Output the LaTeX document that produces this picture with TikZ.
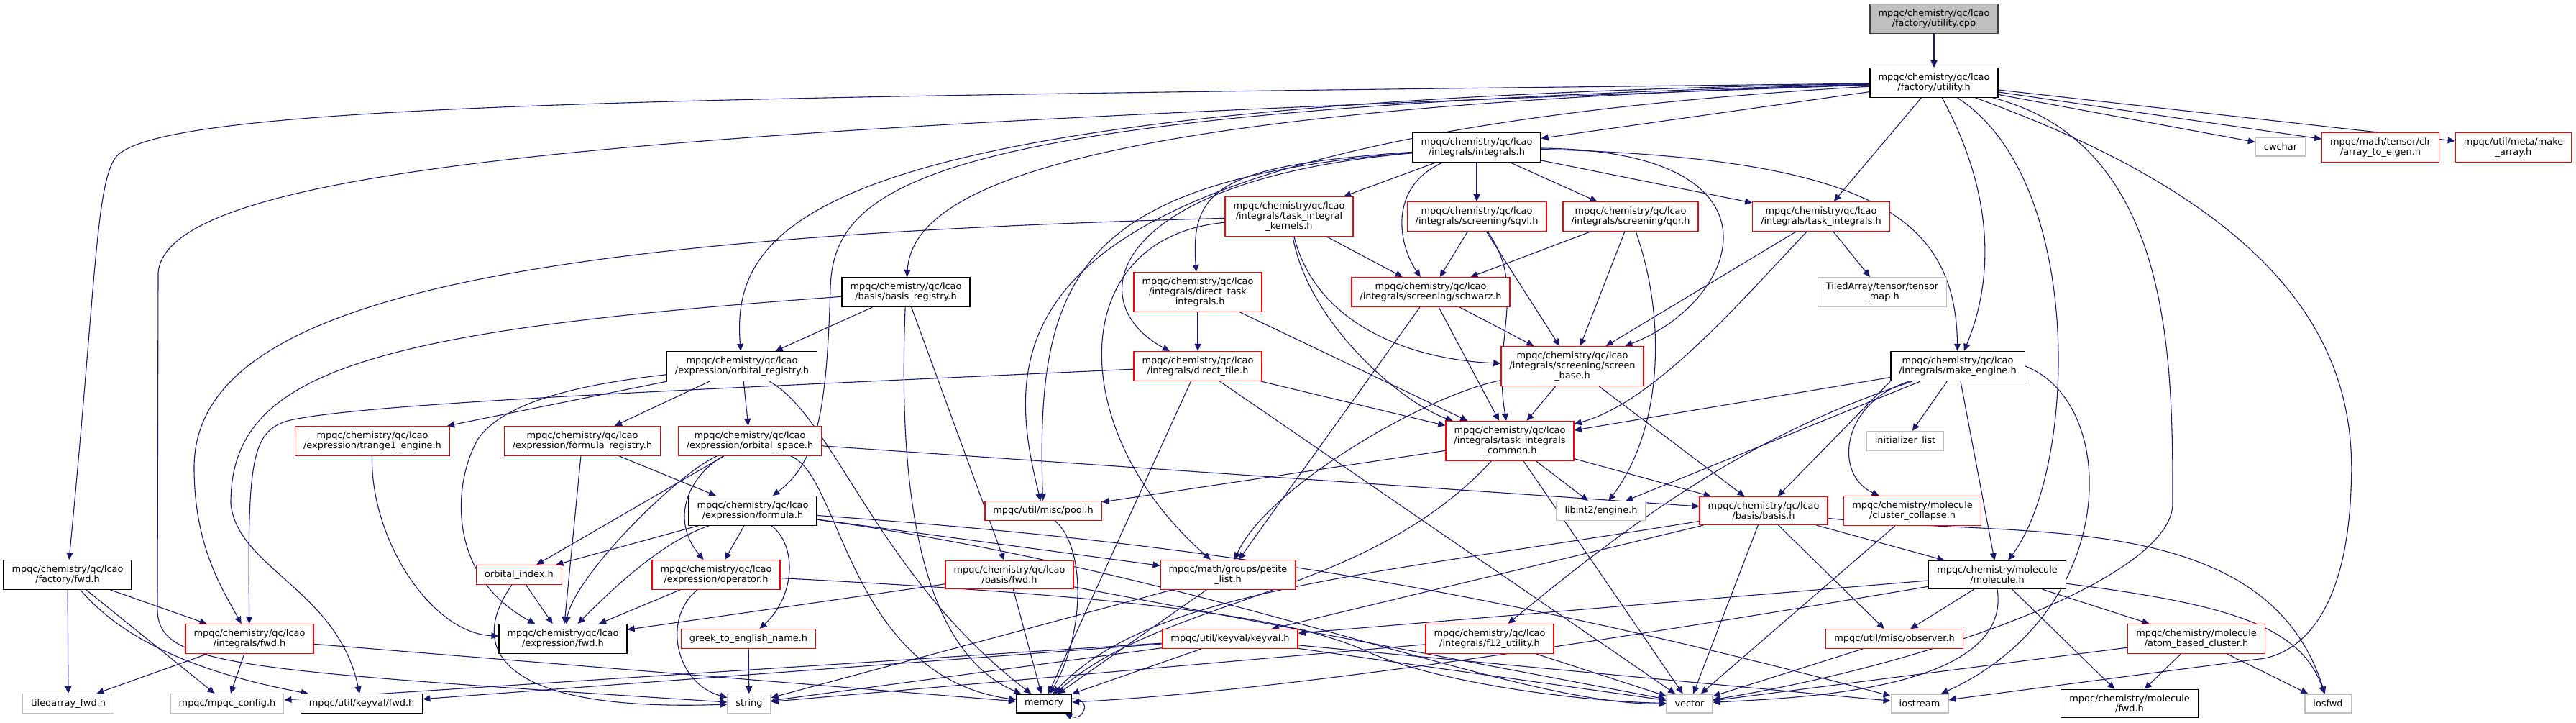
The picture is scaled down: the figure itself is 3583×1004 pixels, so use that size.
\documentclass[tikz,border=0pt]{standalone}
\usepackage{fontspec}
\setmainfont{DejaVu Sans}
\usetikzlibrary{arrows.meta}
\pgfdeclarelayer{background}
\pgfsetlayers{background,main}
\definecolor{edgecol}{HTML}{191970}
\definecolor{redline}{HTML}{FF0000}
\definecolor{sysline}{HTML}{BFBFBF}
\definecolor{srcfill}{HTML}{BFBFBF}
\definecolor{srcline}{HTML}{404040}

\begin{document}
\begin{tikzpicture}[
    x=1pt, y=-1pt,
    every node/.style={font=\fontsize{12.9}{14}\selectfont},
    dep/.style={-{Triangle[length=10pt,width=9pt]}, line width=1.1pt, color=edgecol},
    box/.style={rectangle, fill=white, align=center, inner xsep=11.5pt, inner ysep=7pt,
                minimum height=26pt, line width=1.3pt},
    hdr/.style={box, draw=black},
    redhdr/.style={box, draw=redline},
    syshdr/.style={box, draw=sysline},
    srcfile/.style={box, draw=srcline, fill=srcfill},
]

\useasboundingbox (0,0) rectangle (3583,1004);

% ================================================================ headers, top to bottom
\node[srcfile] (ucpp) at (2690,26) {mpqc/chemistry/qc/lcao\\/factory/utility.cpp};
\node[hdr] (uh) at (2690,115) {mpqc/chemistry/qc/lcao\\/factory/utility.h};

\node[hdr] (integ) at (2054,205) {mpqc/chemistry/qc/lcao\\/integrals/integrals.h};
\node[syshdr] (cwchar) at (3172,204) {cwchar};
\node[redhdr] (a2e) at (3311,205) {mpqc/math/tensor/clr\\/array\_to\_eigen.h};
\node[redhdr] (mkarr) at (3496,205) {mpqc/util/meta/make\\\_array.h};

\node[redhdr] (kern) at (1793,301) {mpqc/chemistry/qc/lcao\\/integrals/task\_integral\\\_kernels.h};
\node[redhdr] (sqvl) at (2054,301) {mpqc/chemistry/qc/lcao\\/integrals/screening/sqvl.h};
\node[redhdr] (qqr) at (2268,301) {mpqc/chemistry/qc/lcao\\/integrals/screening/qqr.h};
\node[redhdr] (tint) at (2533,301) {mpqc/chemistry/qc/lcao\\/integrals/task\_integrals.h};

\node[hdr] (breg) at (1260,406) {mpqc/chemistry/qc/lcao\\/basis/basis\_registry.h};
\node[redhdr] (dti) at (1666,406) {mpqc/chemistry/qc/lcao\\/integrals/direct\_task\\\_integrals.h};
\node[redhdr] (schw) at (1990,406) {mpqc/chemistry/qc/lcao\\/integrals/screening/schwarz.h};
\node[syshdr] (tmap) at (2618,406) {TiledArray/tensor/tensor\\\_map.h};

\node[hdr] (oreg) at (1032,509) {mpqc/chemistry/qc/lcao\\/expression/orbital\_registry.h};
\node[redhdr] (dtile) at (1666,509) {mpqc/chemistry/qc/lcao\\/integrals/direct\_tile.h};
\node[redhdr] (sbase) at (2187,509) {mpqc/chemistry/qc/lcao\\/integrals/screening/screen\\\_base.h};
\node[hdr] (meng) at (2723,509) {mpqc/chemistry/qc/lcao\\/integrals/make\_engine.h};

\node[redhdr] (t1e) at (518,613) {mpqc/chemistry/qc/lcao\\/expression/trange1\_engine.h};
\node[redhdr] (freg) at (810,613) {mpqc/chemistry/qc/lcao\\/expression/formula\_registry.h};
\node[redhdr] (ospace) at (1043,613) {mpqc/chemistry/qc/lcao\\/expression/orbital\_space.h};
\node[redhdr] (tic) at (2100,613) {mpqc/chemistry/qc/lcao\\/integrals/task\_integrals\\\_common.h};
\node[syshdr] (ilist) at (2650,613) {initializer\_list};

\node[hdr] (form) at (1047,710) {mpqc/chemistry/qc/lcao\\/expression/formula.h};
\node[redhdr] (pool) at (1451,710) {mpqc/util/misc/pool.h};
\node[syshdr] (libint) at (2227,710) {libint2/engine.h};
\node[redhdr] (basis) at (2453,710) {mpqc/chemistry/qc/lcao\\/basis/basis.h};
\node[redhdr] (ccol) at (2660,710) {mpqc/chemistry/molecule\\/cluster\_collapse.h};

\node[hdr] (ffwd) at (94,799) {mpqc/chemistry/qc/lcao\\/factory/fwd.h};
\node[redhdr] (oidx) at (722,799) {orbital\_index.h};
\node[redhdr] (oper) at (996,799) {mpqc/chemistry/qc/lcao\\/expression/operator.h};
\node[redhdr] (bfwd) at (1404,799) {mpqc/chemistry/qc/lcao\\/basis/fwd.h};
\node[redhdr] (petite) at (1708,799) {mpqc/math/groups/petite\\\_list.h};
\node[hdr] (mol) at (2778,799) {mpqc/chemistry/molecule\\/molecule.h};

\node[redhdr] (ifwd) at (347,888) {mpqc/chemistry/qc/lcao\\/integrals/fwd.h};
\node[hdr] (efwd) at (783,888) {mpqc/chemistry/qc/lcao\\/expression/fwd.h};
\node[redhdr] (greek) at (1041,888) {greek\_to\_english\_name.h};
\node[redhdr] (keyval) at (1711,888) {mpqc/util/keyval/keyval.h};
\node[redhdr] (f12) at (2072,888) {mpqc/chemistry/qc/lcao\\/integrals/f12\_utility.h};
\node[redhdr] (obs) at (2635,888) {mpqc/util/misc/observer.h};
\node[redhdr] (abc) at (3055,888) {mpqc/chemistry/molecule\\/atom\_based\_cluster.h};

\node[syshdr] (tafwd) at (95,978) {tiledarray\_fwd.h};
\node[syshdr] (cfg) at (316,978) {mpqc/mpqc\_config.h};
\node[hdr] (kvfwd) at (503,978) {mpqc/util/keyval/fwd.h};
\node[syshdr] (str) at (1042,978) {string};
\node[hdr] (mem) at (1452,978) {memory};
\node[syshdr] (vec) at (2350,978) {vector};
\node[syshdr] (iostr) at (2670,978) {iostream};
\node[hdr] (mfwd) at (2962,978) {mpqc/chemistry/molecule\\/fwd.h};
\node[syshdr] (iosfwd) at (3238,978) {iosfwd};

\begin{pgfonlayer}{background}
\fill[white] (0,0) rectangle (3583,1004);

% ================================================================ utility.h
\draw[dep] (ucpp) -- (uh);
\draw[dep] (uh) -- (integ);
\draw[dep] (uh) -- (tint);
\draw[dep] (uh) -- (cwchar);
\draw[dep] (uh) -- (a2e);
\draw[dep] (uh) -- (mkarr);
\draw[dep] (uh) .. controls (1500,150) and (1270,260) .. (breg);
\draw[dep] (uh) .. controls (1150,140) and (1015,300) .. (oreg);
\draw[dep] (uh) .. controls (1300,150) and (1160,250) .. (1155,400)
    .. controls (1150,560) and (1140,640) .. (form);
\draw[dep] (uh) .. controls (1400,190) and (1385,450) .. (pool);
\draw[dep] (uh) .. controls (1000,135) and (214,140) .. (160,220)
    .. controls (133,260) and (133,400) .. (ffwd);
\draw[dep] (uh) .. controls (1000,175) and (230,220) .. (220,380) -- (219,840)
    .. controls (215,925) and (300,930) .. (str);
\draw[dep] (uh) .. controls (2790,300) and (2760,420) .. (meng);
\draw[dep] (uh) .. controls (2900,250) and (2890,650) .. (mol);
\draw[dep] (uh) .. controls (3022,200) and (3022,500) .. (3022,700)
    .. controls (3022,800) and (2700,920) .. (vec);
\draw[dep] (uh) .. controls (3200,300) and (3280,500) .. (3270,680)
    .. controls (3265,820) and (3220,900) .. (3150,915) -- (iostr);

% ================================================================ integrals
\draw[dep] (integ) -- (kern);
\draw[dep] (integ) -- (sqvl);
\draw[dep] (integ) -- (qqr);
\draw[dep] (integ) -- (tint);
\draw[dep] (integ) .. controls (1930,260) and (1945,340) .. (schw);
\draw[dep] (integ) .. controls (2500,210) and (2420,420) .. (sbase);
\draw[dep] (integ) .. controls (1700,230) and (1655,260) .. (dti);
\draw[dep] (integ) .. controls (1540,250) and (1500,420) .. (dtile);
\draw[dep] (integ) .. controls (1500,250) and (1440,380) .. (pool);
\draw[dep] (integ) .. controls (2600,220) and (2720,300) .. (meng);

\draw[dep] (kern) -- (schw);
\draw[dep] (kern) .. controls (1830,450) and (1960,500) .. (sbase);
\draw[dep] (kern) .. controls (1820,450) and (1950,560) .. (tic);
\draw[dep] (kern) .. controls (1480,330) and (1480,600) .. (petite);
\draw[dep] (kern) .. controls (700,330) and (270,420) .. (270,650)
    .. controls (270,760) and (310,820) .. (ifwd);

\draw[dep] (sqvl) -- (schw);
\draw[dep] (sqvl) -- (sbase);
\draw[dep] (sqvl) .. controls (2125,400) and (2075,470) .. (tic);
\draw[dep] (qqr) -- (schw);
\draw[dep] (qqr) -- (sbase);
\draw[dep] (qqr) .. controls (2320,450) and (2310,600) .. (libint);
\draw[dep] (tint) -- (tmap);
\draw[dep] (tint) -- (sbase);
\draw[dep] (tint) .. controls (2420,420) and (2300,560) .. (tic);

\draw[dep] (schw) -- (sbase);
\draw[dep] (schw) -- (tic);
\draw[dep] (schw) -- (petite);
\draw[dep] (sbase) -- (tic);
\draw[dep] (sbase) -- (basis);
\draw[dep] (sbase) .. controls (1980,550) and (1760,680) .. (petite);

\draw[dep] (dti) -- (dtile);
\draw[dep] (dti) -- (tic);
\draw[dep] (dtile) -- (tic);
\draw[dep] (dtile) .. controls (1000,540) and (500,560) .. (400,585)
    .. controls (350,600) and (344,640) .. (ifwd);
\draw[dep] (dtile) -- (mem);
\draw[dep] (dtile) -- (vec);

% ================================================================ expression side
\draw[dep] (breg) -- (oreg);
\draw[dep] (breg) -- (bfwd);
\draw[dep] (breg) .. controls (1250,650) and (1270,900) .. (mem);
\draw[dep] (breg) .. controls (500,460) and (321,520) .. (321,700)
    .. controls (330,790) and (470,820) .. (kvfwd);

\draw[dep] (oreg) -- (t1e);
\draw[dep] (oreg) -- (freg);
\draw[dep] (oreg) -- (ospace);
\draw[dep] (oreg) .. controls (800,535) and (700,560) .. (665,610)
    .. controls (630,670) and (620,800) .. (efwd);
\draw[dep] (oreg) .. controls (1160,580) and (1220,800) .. (mem);

\draw[dep] (ospace) -- (oidx);
\draw[dep] (ospace) .. controls (960,660) and (930,720) .. (oper);
\draw[dep] (ospace) .. controls (940,660) and (800,800) .. (efwd);
\draw[dep] (ospace) .. controls (1170,660) and (1180,940) .. (mem);
\draw[dep] (ospace) -- (basis);

\draw[dep] (t1e) .. controls (515,750) and (600,880) .. (efwd);
\draw[dep] (freg) -- (form);
\draw[dep] (freg) -- (efwd);

\draw[dep] (form) -- (oidx);
\draw[dep] (form) -- (oper);
\draw[dep] (form) .. controls (930,750) and (870,800) .. (efwd);
\draw[dep] (form) .. controls (1110,760) and (1105,830) .. (greek);
\draw[dep] (form) -- (petite);
\draw[dep] (form) .. controls (1700,800) and (2100,980) .. (vec);
\draw[dep] (form) .. controls (1600,750) and (2000,800) .. (iostr);

\draw[dep] (oper) .. controls (920,860) and (940,950) .. (str);
\draw[dep] (oper) -- (efwd);
\draw[dep] (oper) .. controls (1600,830) and (1800,860) .. (1900,905)
    .. controls (2000,950) and (2200,975) .. (vec);
\draw[dep] (greek) -- (str);
\draw[dep] (oidx) -- (efwd);
\draw[dep] (oidx) .. controls (650,900) and (690,990) .. (str);
\draw[dep] (bfwd) -- (mem);
\draw[dep] (bfwd) -- (efwd);
\draw[dep] (bfwd) -- (vec);

% ================================================================ utilities, low level
\draw[dep] (pool) .. controls (1510,760) and (1510,880) .. (mem);
\draw[dep] (petite) -- (mem);
\draw[dep] (petite) -- (str);
\draw[dep] (keyval) -- (mem);
\draw[dep] (keyval) -- (str);
\draw[dep] (keyval) -- (vec);
\draw[dep] (keyval) -- (kvfwd);
\draw[dep] (keyval) -- (cfg);
\draw[dep] (keyval) -- (iostr);

\draw[dep] (meng) -- (tic);
\draw[dep] (meng) -- (ilist);
\draw[dep] (meng) -- (libint);
\draw[dep] (meng.south west) -- (basis);
\draw[dep] (meng) .. controls (2450,600) and (2300,700) .. (f12);
\draw[dep] (meng) .. controls (2560,560) and (2550,660) .. (ccol);
\draw[dep] (meng) -- (mol);
\draw[dep] (meng.east) .. controls (2950,560) and (2950,850) .. (iostr);

\draw[dep] (tic) -- (pool);
\draw[dep] (tic) -- (libint);
\draw[dep] (tic) -- (basis);
\draw[dep] (tic) .. controls (1900,830) and (1620,830) .. (mem);
\draw[dep] (tic) -- (vec);

\draw[dep] (basis) -- (mol);
\draw[dep] (basis) -- (obs);
\draw[dep] (basis) -- (vec);
\draw[dep] (basis) .. controls (1900,800) and (1600,820) .. (mem);
\draw[dep] (basis) -- (keyval);
\draw[dep] (basis) .. controls (2800,750) and (3150,700) .. (iosfwd);

\draw[dep] (ccol) -- (vec);
\draw[dep] (mol) -- (keyval);
\draw[dep] (mol) -- (abc);
\draw[dep] (mol) -- (mfwd);
\draw[dep] (mol) .. controls (3100,840) and (3200,870) .. (iosfwd);
\draw[dep] (mol.south) .. controls (2800,960) and (2500,970) .. (vec);
\draw[dep] (mol) -- (obs);
\draw[dep] (mol) .. controls (2300,880) and (1800,960) .. (mem);
\draw[dep] (f12) -- (vec);
\draw[dep] (f12) -- (str);
\draw[dep] (obs) -- (vec);
\draw[dep] (abc) -- (mfwd);
\draw[dep] (abc) -- (iosfwd);
\draw[dep] (abc) -- (vec);

\draw[dep] (ffwd) -- (ifwd);
\draw[dep] (ffwd) -- (tafwd);
\draw[dep] (ffwd) -- (cfg);
\draw[dep] (ffwd) .. controls (180,900) and (300,940) .. (kvfwd);
\draw[dep] (ifwd) -- (tafwd);
\draw[dep] (ifwd) -- (cfg);
\draw[dep] (ifwd) -- (mem);

% memory includes itself
\draw[dep] (mem.10) .. controls +(30,0) and +(25,12) .. (mem.-25);
\end{pgfonlayer}

\end{tikzpicture}
\end{document}
